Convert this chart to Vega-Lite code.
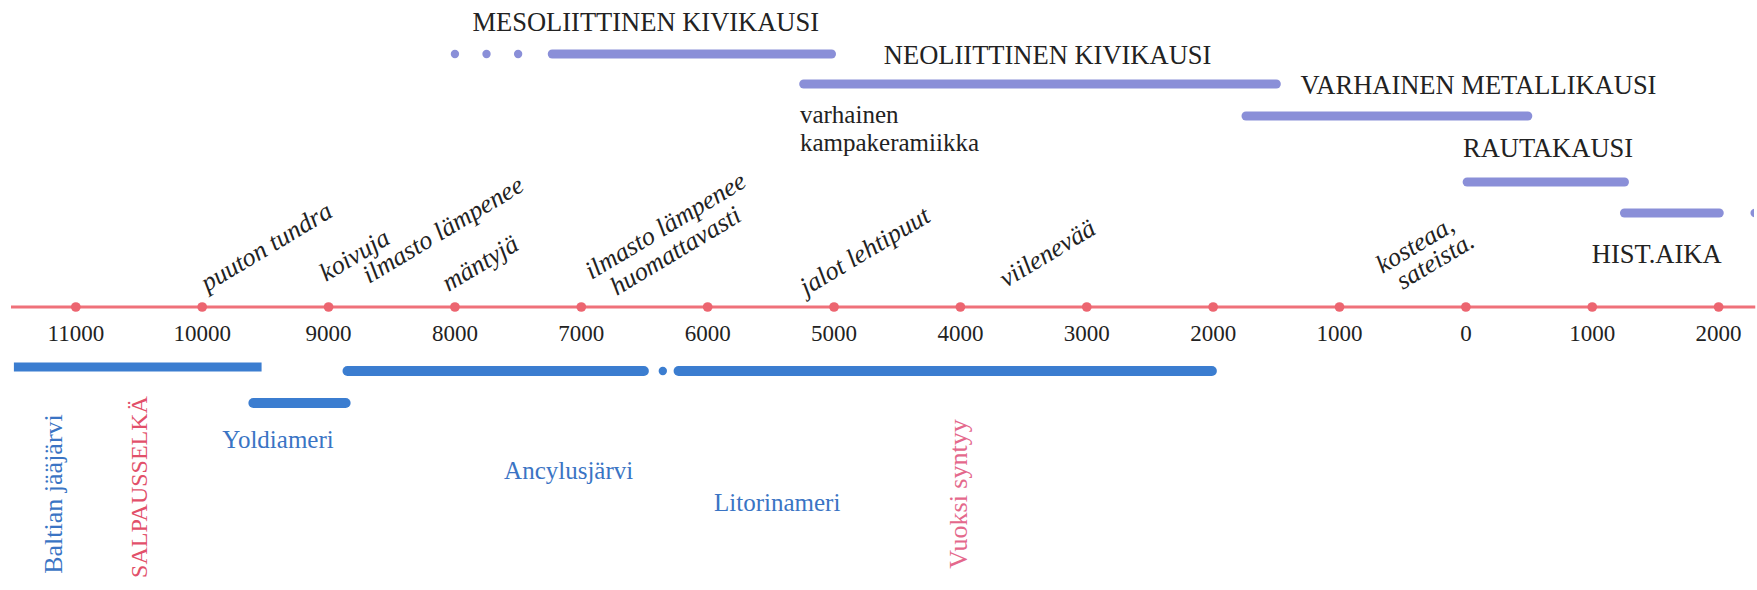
{
  "$schema": "https://vega.github.io/schema/vega-lite/v6.json",
  "width": 1757,
  "height": 590,
  "autosize": {"type": "fit", "contains": "padding"},
  "padding": 0,
  "background": "white",
  "config": {"view": {"stroke": null}, "text": {"font": "Liberation Serif"}},
  "datasets": {
    "axisline": [{"start": -11513, "end": 2290, "lane": 307}],
    "ticks": [
      {"year": -11000, "label": "11000", "lane": 307},
      {"year": -10000, "label": "10000", "lane": 307},
      {"year": -9000, "label": "9000", "lane": 307},
      {"year": -8000, "label": "8000", "lane": 307},
      {"year": -7000, "label": "7000", "lane": 307},
      {"year": -6000, "label": "6000", "lane": 307},
      {"year": -5000, "label": "5000", "lane": 307},
      {"year": -4000, "label": "4000", "lane": 307},
      {"year": -3000, "label": "3000", "lane": 307},
      {"year": -2000, "label": "2000", "lane": 307},
      {"year": -1000, "label": "1000", "lane": 307},
      {"year": 0, "label": "0", "lane": 307},
      {"year": 1000, "label": "1000", "lane": 307},
      {"year": 2000, "label": "2000", "lane": 307}
    ],
    "periods": [
      {"name": "MESOLIITTINEN KIVIKAUSI", "start": -7230, "end": -5020, "lane": 54},
      {"name": "NEOLIITTINEN KIVIKAUSI", "start": -5240, "end": -1500, "lane": 84},
      {"name": "VARHAINEN METALLIKAUSI", "start": -1740, "end": 490, "lane": 116},
      {"name": "RAUTAKAUSI", "start": 10, "end": 1255, "lane": 182},
      {"name": "HIST.AIKA", "start": 1255, "end": 2005, "lane": 213}
    ],
    "perioddots": [
      {"year": -8000, "lane": 54},
      {"year": -7750, "lane": 54},
      {"year": -7500, "lane": 54},
      {"year": 2285, "lane": 213}
    ],
    "periodlabels": [
      {"text": "MESOLIITTINEN KIVIKAUSI", "year": -6490, "lane": 31},
      {"text": "NEOLIITTINEN KIVIKAUSI", "year": -3310, "lane": 64},
      {"text": "VARHAINEN METALLIKAUSI", "year": 100, "lane": 94},
      {"text": "RAUTAKAUSI", "year": 650, "lane": 157},
      {"text": "HIST.AIKA", "year": 1510, "lane": 263}
    ],
    "notes": [
      {"text": "varhainen", "year": -5270, "lane": 115},
      {"text": "kampakeramiikka", "year": -5270, "lane": 143}
    ],
    "climate": [
      {"text": "puuton tundra", "year": -9960, "lane": 292},
      {"text": "koivuja", "year": -9020, "lane": 282},
      {"text": "ilmasto lämpenee", "year": -8680, "lane": 284},
      {"text": "mäntyjä", "year": -8050, "lane": 292},
      {"text": "ilmasto lämpenee", "year": -6920, "lane": 280},
      {"text": "huomattavasti", "year": -6720, "lane": 296},
      {"text": "jalot lehtipuut", "year": -5220, "lane": 296},
      {"text": "viilenevää", "year": -3640, "lane": 288},
      {"text": "kosteaa,", "year": -660, "lane": 274},
      {"text": "sateista.", "year": -500, "lane": 290}
    ],
    "baltic": [{"name": "Baltian jääjärvi", "start": -11490, "end": -9530, "lane": 367}],
    "lakes": [
      {"name": "Yoldiameri", "start": -9595, "end": -8865, "lane": 403},
      {"name": "Ancylusjärvi", "start": -8850, "end": -6505, "lane": 371},
      {"name": "Litorinameri", "start": -6230, "end": -2010, "lane": 371}
    ],
    "lakedots": [{"year": -6355, "lane": 371}],
    "lakelabels": [
      {"text": "Yoldiameri", "year": -9400, "lane": 440},
      {"text": "Ancylusjärvi", "year": -7100, "lane": 471},
      {"text": "Litorinameri", "year": -5450, "lane": 503}
    ],
    "vlabels": [
      {"text": "Baltian jääjärvi", "year": -11175, "lane": 494, "kind": "lake"},
      {"text": "Vuoksi syntyy", "year": -4010, "lane": 494, "kind": "vuoksi"}
    ],
    "salpa": [
      {"text": "SALPAUSSELKÄ", "year": -10495, "lane": 487}
    ]
  },
  "layer": [
    {
      "data": {"name": "axisline"},
      "mark": {"type": "rule", "color": "#ef717a", "strokeWidth": 3},
      "encoding": {
        "x": {"field": "start", "type": "quantitative", "scale": {"domain": [-11600, 2280], "nice": false, "zero": false}, "axis": null},
        "x2": {"field": "end"},
        "y": {"field": "lane", "type": "quantitative", "scale": {"domain": [0, 590], "reverse": true, "nice": false, "zero": false}, "axis": null}
      }
    },
    {
      "data": {"name": "ticks"},
      "mark": {"type": "circle", "color": "#ec6570", "opacity": 1, "size": 95},
      "encoding": {
        "x": {"field": "year", "type": "quantitative"},
        "y": {"field": "lane", "type": "quantitative"}
      }
    },
    {
      "data": {"name": "ticks"},
      "mark": {"type": "text", "font": "Liberation Serif", "fontSize": 23, "color": "#222222", "align": "center", "baseline": "alphabetic", "dy": 34},
      "encoding": {
        "x": {"field": "year", "type": "quantitative"},
        "y": {"field": "lane", "type": "quantitative"},
        "text": {"field": "label"}
      }
    },
    {
      "data": {"name": "periods"},
      "mark": {"type": "rule", "color": "#8a8fd8", "strokeWidth": 9, "strokeCap": "round"},
      "encoding": {
        "x": {"field": "start", "type": "quantitative"},
        "x2": {"field": "end"},
        "y": {"field": "lane", "type": "quantitative"}
      }
    },
    {
      "data": {"name": "perioddots"},
      "mark": {"type": "circle", "color": "#8a8fd8", "opacity": 1, "size": 70, "clip": true},
      "encoding": {
        "x": {"field": "year", "type": "quantitative"},
        "y": {"field": "lane", "type": "quantitative"}
      }
    },
    {
      "data": {"name": "periodlabels"},
      "mark": {"type": "text", "font": "Liberation Serif", "fontSize": 26.5, "color": "#222222", "align": "center", "baseline": "alphabetic"},
      "encoding": {
        "x": {"field": "year", "type": "quantitative"},
        "y": {"field": "lane", "type": "quantitative"},
        "text": {"field": "text"}
      }
    },
    {
      "data": {"name": "notes"},
      "mark": {"type": "text", "font": "Liberation Serif", "fontSize": 25, "color": "#222222", "align": "left", "baseline": "middle"},
      "encoding": {
        "x": {"field": "year", "type": "quantitative"},
        "y": {"field": "lane", "type": "quantitative"},
        "text": {"field": "text"}
      }
    },
    {
      "data": {"name": "climate"},
      "mark": {"type": "text", "font": "Liberation Serif", "fontSize": 26, "fontStyle": "italic", "color": "#222222", "align": "left", "baseline": "alphabetic", "angle": -31},
      "encoding": {
        "x": {"field": "year", "type": "quantitative"},
        "y": {"field": "lane", "type": "quantitative"},
        "text": {"field": "text"}
      }
    },
    {
      "data": {"name": "baltic"},
      "mark": {"type": "rule", "color": "#3b7dd0", "strokeWidth": 9, "strokeCap": "butt"},
      "encoding": {
        "x": {"field": "start", "type": "quantitative"},
        "x2": {"field": "end"},
        "y": {"field": "lane", "type": "quantitative"}
      }
    },
    {
      "data": {"name": "lakes"},
      "mark": {"type": "rule", "color": "#3b7dd0", "strokeWidth": 10, "strokeCap": "round"},
      "encoding": {
        "x": {"field": "start", "type": "quantitative"},
        "x2": {"field": "end"},
        "y": {"field": "lane", "type": "quantitative"}
      }
    },
    {
      "data": {"name": "lakedots"},
      "mark": {"type": "circle", "color": "#3b7dd0", "opacity": 1, "size": 70},
      "encoding": {
        "x": {"field": "year", "type": "quantitative"},
        "y": {"field": "lane", "type": "quantitative"}
      }
    },
    {
      "data": {"name": "lakelabels"},
      "mark": {"type": "text", "font": "Liberation Serif", "fontSize": 25, "color": "#3a74c4", "align": "center", "baseline": "middle"},
      "encoding": {
        "x": {"field": "year", "type": "quantitative"},
        "y": {"field": "lane", "type": "quantitative"},
        "text": {"field": "text"}
      }
    },
    {
      "data": {"name": "vlabels"},
      "mark": {"type": "text", "font": "Liberation Serif", "fontSize": 26, "align": "center", "baseline": "middle", "angle": 270},
      "encoding": {
        "x": {"field": "year", "type": "quantitative"},
        "y": {"field": "lane", "type": "quantitative"},
        "text": {"field": "text"},
        "color": {"field": "kind", "type": "nominal", "scale": {"domain": ["lake", "vuoksi"], "range": ["#3a74c4", "#e4688c"]}, "legend": null}
      }
    },
    {
      "data": {"name": "salpa"},
      "mark": {"type": "text", "font": "Liberation Serif", "fontSize": 24, "color": "#e2506a", "align": "center", "baseline": "middle", "angle": 270},
      "encoding": {
        "x": {"field": "year", "type": "quantitative"},
        "y": {"field": "lane", "type": "quantitative"},
        "text": {"field": "text"}
      }
    }
  ]
}
